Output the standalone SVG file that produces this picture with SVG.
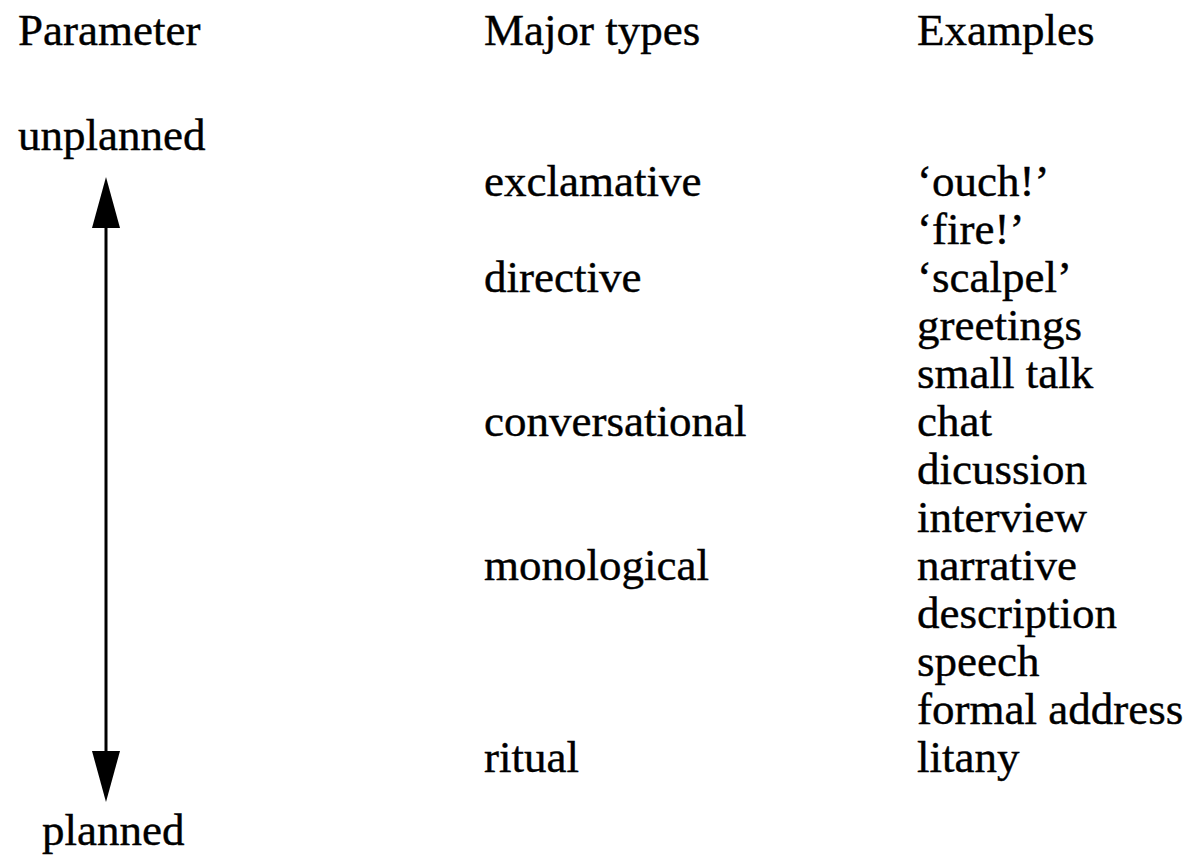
<svg xmlns="http://www.w3.org/2000/svg" width="1188" height="864" viewBox="0 0 1188 864">
<style>
text{font-family:"Liberation Serif","Times New Roman",serif;font-size:45px;fill:#000;stroke:#000;stroke-width:0.4}
.ax{stroke:#000;stroke-width:3;fill:none}
</style>
<defs>
<marker id="ah" markerUnits="userSpaceOnUse" viewBox="0 0 51 28" refX="38" refY="14" markerWidth="51" markerHeight="28" orient="auto-start-reverse">
<path d="M0 0 L51 14 L0 28 Z" fill="#000"/>
</marker>
</defs>
<rect width="1188" height="864" fill="#fff"/>
<g id="headers">
<text x="18" y="45">Parameter</text>
<text x="484" y="45">Major types</text>
<text x="917" y="45">Examples</text>
</g>
<g id="parameter">
<text x="18" y="150">unplanned</text>
<text x="42" y="845">planned</text>
</g>
<g id="connectors">
<path class="ax" d="M106 190 L106 789" marker-start="url(#ah)" marker-end="url(#ah)"/>
</g>
<g id="types">
<text x="484" y="196">exclamative</text>
<text x="484" y="292">directive</text>
<text x="484" y="436">conversational</text>
<text x="484" y="580">monological</text>
<text x="484" y="772">ritual</text>
</g>
<g id="examples">
<text x="917" y="196">‘ouch!’</text>
<text x="917" y="244">‘fire!’</text>
<text x="917" y="292">‘scalpel’</text>
<text x="917" y="340">greetings</text>
<text x="917" y="388">small talk</text>
<text x="917" y="436">chat</text>
<text x="917" y="484">dicussion</text>
<text x="917" y="532">interview</text>
<text x="917" y="580">narrative</text>
<text x="917" y="628">description</text>
<text x="917" y="676">speech</text>
<text x="917" y="724">formal address</text>
<text x="917" y="772">litany</text>
</g>
</svg>
